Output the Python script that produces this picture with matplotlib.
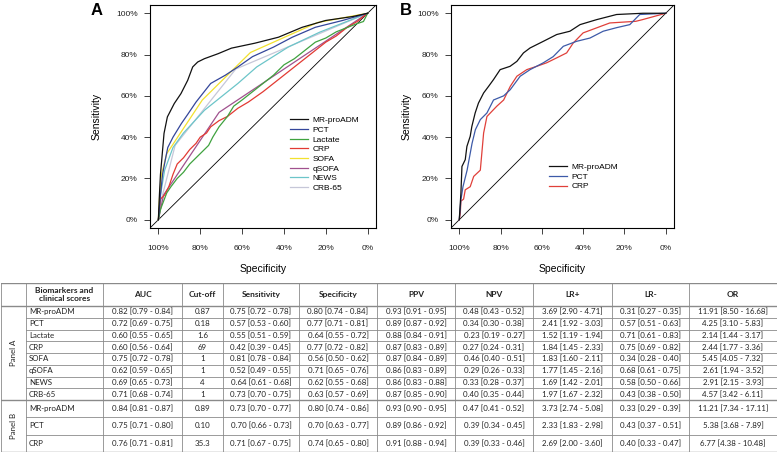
import numpy as np
import matplotlib
matplotlib.use("Agg")
import matplotlib.pyplot as plt

plt.rcParams['font.family'] = ['Liberation Sans', 'DejaVu Sans']

# ---- ROC curves, panel A: (specificity, sensitivity)
mrpro_a_spec = [1.0, 0.995, 0.99, 0.984, 0.973, 0.957, 0.924, 0.892, 0.86, 0.836, 0.812, 0.78, 0.715,
                0.651, 0.539, 0.426, 0.313, 0.201, 0.072, 0.0]
mrpro_a_sens = [0.0, 0.12, 0.22, 0.289, 0.418, 0.498, 0.563, 0.611, 0.675, 0.74, 0.764, 0.78, 0.804,
                0.831, 0.855, 0.884, 0.932, 0.965, 0.984, 1.0]
pct_a_spec = [1.0, 0.99, 0.98, 0.965, 0.955, 0.93, 0.89, 0.86, 0.82, 0.75, 0.68, 0.62, 0.55, 0.45,
              0.36, 0.25, 0.12, 0.0]
pct_a_sens = [0.0, 0.12, 0.22, 0.3, 0.35, 0.4, 0.466, 0.51, 0.57, 0.66, 0.7, 0.74, 0.79, 0.836,
              0.884, 0.932, 0.965, 1.0]
lact_spec = [1.0, 0.99, 0.975, 0.96, 0.94, 0.91, 0.88, 0.85, 0.82, 0.79, 0.76, 0.74, 0.71, 0.67, 0.64,
             0.6, 0.55, 0.5, 0.45, 0.4, 0.35, 0.3, 0.25, 0.2, 0.15, 0.1, 0.05, 0.02, 0.0]
lact_sens = [0.0, 0.05, 0.09, 0.13, 0.16, 0.2, 0.23, 0.27, 0.3, 0.33, 0.36, 0.4, 0.45, 0.5, 0.55,
             0.58, 0.62, 0.66, 0.7, 0.75, 0.78, 0.82, 0.86, 0.88, 0.91, 0.93, 0.95, 0.96, 1.0]
crp_a_spec = [1.0, 0.99, 0.97, 0.95, 0.93, 0.91, 0.88, 0.85, 0.82, 0.8, 0.77, 0.75, 0.71, 0.67, 0.62,
              0.57, 0.5, 0.45, 0.4, 0.35, 0.3, 0.25, 0.2, 0.15, 0.1, 0.05, 0.0]
crp_a_sens = [0.0, 0.1, 0.12, 0.16, 0.22, 0.27, 0.3, 0.34, 0.37, 0.4, 0.42, 0.45, 0.48, 0.5, 0.54,
              0.57, 0.62, 0.66, 0.7, 0.74, 0.78, 0.82, 0.86, 0.89, 0.93, 0.96, 1.0]
sofa_spec = [1.0, 0.995, 0.985, 0.96, 0.79, 0.56, 0.24, 0.0]
sofa_sens = [0.0, 0.1, 0.22, 0.32, 0.58, 0.81, 0.955, 1.0]
qsofa_spec = [1.0, 0.975, 0.71, 0.0]
qsofa_sens = [0.0, 0.12, 0.52, 1.0]
news_spec = [1.0, 0.99, 0.97, 0.93, 0.88, 0.78, 0.62, 0.53, 0.38, 0.23, 0.0]
news_sens = [0.0, 0.12, 0.24, 0.35, 0.42, 0.53, 0.66, 0.74, 0.836, 0.908, 1.0]
crb_spec = [1.0, 0.985, 0.92, 0.63, 0.0]
crb_sens = [0.0, 0.1, 0.36, 0.73, 1.0]

# ---- ROC curves, panel B
mrpro_b_spec = [1.0, 0.992, 0.987, 0.971, 0.963, 0.947, 0.939, 0.923, 0.907, 0.882, 0.858, 0.834, 0.802,
                0.754, 0.721, 0.689, 0.657, 0.593, 0.528, 0.464, 0.415, 0.335, 0.238, 0.11, 0.0]
mrpro_b_sens = [0.0, 0.129, 0.258, 0.291, 0.355, 0.404, 0.452, 0.517, 0.565, 0.614, 0.646, 0.679, 0.727,
                0.743, 0.767, 0.808, 0.832, 0.864, 0.897, 0.913, 0.945, 0.969, 0.994, 1.0, 1.0]
pct_b_spec = [1.0, 0.992, 0.982, 0.962, 0.938, 0.922, 0.898, 0.866, 0.834, 0.785, 0.753, 0.705, 0.657,
              0.593, 0.545, 0.496, 0.432, 0.367, 0.303, 0.239, 0.174, 0.126, 0.0]
pct_b_sens = [0.0, 0.097, 0.16, 0.24, 0.37, 0.436, 0.485, 0.517, 0.58, 0.6, 0.63, 0.695, 0.727,
              0.76, 0.79, 0.84, 0.864, 0.88, 0.913, 0.93, 0.945, 0.994, 1.0]
crp_b_spec = [1.0, 0.995, 0.992, 0.979, 0.971, 0.947, 0.93, 0.898, 0.882, 0.866, 0.818, 0.785, 0.753,
              0.721, 0.673, 0.625, 0.577, 0.528, 0.48, 0.448, 0.4, 0.271, 0.145, 0.113, 0.0]
crp_b_sens = [0.0, 0.03, 0.09, 0.1, 0.145, 0.16, 0.21, 0.24, 0.42, 0.5, 0.55, 0.58, 0.646,
              0.695, 0.727, 0.743, 0.76, 0.784, 0.808, 0.856, 0.905, 0.953, 0.961, 0.969, 1.0]

# ---- table values
row_names = ["MR-proADM", "PCT", "Lactate", "CRP", "SOFA", "qSOFA", "NEWS", "CRB-65",
             "MR-proADM", "PCT", "CRP"]
auc = ["0.82 [0.79 - 0.84]", "0.72 [0.69 - 0.75]", "0.60 [0.55 - 0.65]", "0.60 [0.56 - 0.64]",
       "0.75 [0.72 - 0.78]", "0.62 [0.59 - 0.65]", "0.69 [0.65 - 0.73]", "0.71 [0.68 - 0.74]",
       "0.84 [0.81 - 0.87]", "0.75 [0.71 - 0.80]", "0.76 [0.71 - 0.81]"]
cutoff = ["0.87", "0.18", "1.6", "69", "1", "1", "4", "1", "0.89", "0.10", "35.3"]
sens = ["0.75 [0.72 - 0.78]", "0.57 [0.53 - 0.60]", "0.55 [0.51 - 0.59]", "0.42 [0.39 - 0.45]",
        "0.81 [0.78 - 0.84]", "0.52 [0.49 - 0.55]", "0.64 [0.61 - 0.68]", "0.73 [0.70 - 0.75]",
        "0.73 [0.70 - 0.77]", "0.70 [0.66 - 0.73]", "0.71 [0.67 - 0.75]"]
spec = ["0.80 [0.74 - 0.84]", "0.77 [0.71 - 0.81]", "0.64 [0.55 - 0.72]", "0.77 [0.72 - 0.82]",
        "0.56 [0.50 - 0.62]", "0.71 [0.65 - 0.76]", "0.62 [0.55 - 0.68]", "0.63 [0.57 - 0.69]",
        "0.80 [0.74 - 0.86]", "0.70 [0.63 - 0.77]", "0.74 [0.65 - 0.80]"]
ppv = ["0.93 [0.91 - 0.95]", "0.89 [0.87 - 0.92]", "0.88 [0.84 - 0.91]", "0.87 [0.83 - 0.89]",
       "0.87 [0.84 - 0.89]", "0.86 [0.83 - 0.89]", "0.86 [0.83 - 0.88]", "0.87 [0.85 - 0.90]",
       "0.93 [0.90 - 0.95]", "0.89 [0.86 - 0.92]", "0.91 [0.88 - 0.94]"]
npv = ["0.48 [0.43 - 0.52]", "0.34 [0.30 - 0.38]", "0.23 [0.19 - 0.27]", "0.27 [0.24 - 0.31]",
       "0.46 [0.40 - 0.51]", "0.29 [0.26 - 0.33]", "0.33 [0.28 - 0.37]", "0.40 [0.35 - 0.44]",
       "0.47 [0.41 - 0.52]", "0.39 [0.34 - 0.45]", "0.39 [0.33 - 0.46]"]
lr_pos = ["3.69 [2.90 - 4.71]", "2.41 [1.92 - 3.03]", "1.52 [1.19 - 1.94]", "1.84 [1.45 - 2.33]",
          "1.83 [1.60 - 2.11]", "1.77 [1.45 - 2.16]", "1.69 [1.42 - 2.01]", "1.97 [1.67 - 2.32]",
          "3.73 [2.74 - 5.08]", "2.33 [1.83 - 2.98]", "2.69 [2.00 - 3.60]"]
lr_neg = ["0.31 [0.27 - 0.35]", "0.57 [0.51 - 0.63]", "0.71 [0.61 - 0.83]", "0.75 [0.69 - 0.82]",
          "0.34 [0.28 - 0.40]", "0.68 [0.61 - 0.75]", "0.58 [0.50 - 0.66]", "0.43 [0.38 - 0.50]",
          "0.33 [0.29 - 0.39]", "0.43 [0.37 - 0.51]", "0.40 [0.33 - 0.47]"]
odds = ["11.91 [8.50 - 16.68]", "4.25 [3.10 - 5.83]", "2.14 [1.44 - 3.17]", "2.44 [1.77 - 3.36]",
        "5.45 [4.05 - 7.32]", "2.61 [1.94 - 3.52]", "2.91 [2.15 - 3.93]", "4.57 [3.42 - 6.11]",
        "11.21 [7.34 - 17.11]", "5.38 [3.68 - 7.89]", "6.77 [4.38 - 10.48]"]
headers = ["", "Biomarkers and\nclinical scores", "AUC", "Cut-off", "Sensitivity", "Specificity",
           "PPV", "NPV", "LR+", "LR-", "OR"]
panels = ["Panel A", "Panel B"]
panel_sizes = [8, 3]

W, H = 778, 453
fig = plt.figure(figsize=(W / 100, H / 100), dpi=100)


def px_axes(x0, y0, x1, y1):
    return fig.add_axes([x0 / W, 1 - y1 / H, (x1 - x0) / W, (y1 - y0) / H])


def roc_axes(ax, ylab_x):
    ax.set_xlim(1.04, -0.04)
    ax.set_ylim(-0.04, 1.04)
    ticks = [0, 0.2, 0.4, 0.6, 0.8, 1.0]
    ax.set_xticks(ticks)
    ax.set_xticklabels([f"{int(t * 100)}%" for t in ticks])
    ax.set_yticks(ticks)
    ax.set_yticklabels([f"{int(t * 100)}%" for t in ticks])
    ax.tick_params(axis='both', labelsize=6, length=4, width=0.6, colors='#222222')
    ax.tick_params(axis='x', pad=8)
    ax.tick_params(axis='y', pad=5)
    for s in ax.spines.values():
        s.set_linewidth(0.8)
    ax.axline((1, 0), (0, 1), color='black', lw=0.6)
    ax.set_xlabel("Specificity", fontsize=7.5)
    ax.set_ylabel("Sensitivity", fontsize=7.5)
    ax.xaxis.set_label_coords(0.5, -0.16)
    ax.yaxis.set_label_coords(ylab_x, 0.5)


# panel A
axA = px_axes(150, 5, 376, 228)
roc_axes(axA, -0.215)
curvesA = [
    ("MR-proADM", mrpro_a_spec, mrpro_a_sens, "#111111"),
    ("PCT", pct_a_spec, pct_a_sens, "#34469a"),
    ("Lactate", lact_spec, lact_sens, "#3fa23f"),
    ("CRP", crp_a_spec, crp_a_sens, "#e23a33"),
    ("SOFA", sofa_spec, sofa_sens, "#f2e12e"),
    ("qSOFA", qsofa_spec, qsofa_sens, "#a0518e"),
    ("NEWS", news_spec, news_sens, "#6cc5c9"),
    ("CRB-65", crb_spec, crb_sens, "#c6c7d8"),
]
# draw in reverse so the black curve sits on top
for name, x, y, c in curvesA[::-1]:
    axA.plot(x, y, color=c, lw=0.9, label=name)
h, l = axA.get_legend_handles_labels()
axA.legend(h[::-1], l[::-1], loc='upper left', bbox_to_anchor=(0.62, 0.5), frameon=False,
           fontsize=6, handlelength=2.1, handletextpad=0.6, labelspacing=0.22, borderpad=0,
           borderaxespad=0)

# panel B
axB = px_axes(451, 5, 674, 228)
roc_axes(axB, -0.175)
curvesB = [
    ("MR-proADM", mrpro_b_spec, mrpro_b_sens, "#111111"),
    ("PCT", pct_b_spec, pct_b_sens, "#3d5aa8"),
    ("CRP", crp_b_spec, crp_b_sens, "#e0403a"),
]
for name, x, y, c in curvesB[::-1]:
    axB.plot(x, y, color=c, lw=0.9, label=name)
h, l = axB.get_legend_handles_labels()
axB.legend(h[::-1], l[::-1], loc='upper left', bbox_to_anchor=(0.44, 0.29), frameon=False,
           fontsize=6, handlelength=2.1, handletextpad=0.6, labelspacing=0.22, borderpad=0,
           borderaxespad=0)

fig.text(91 / W, 1 - 3 / H, "A", fontsize=12, fontweight='bold', va='top', ha='left')
fig.text(400 / W, 1 - 3 / H, "B", fontsize=12, fontweight='bold', va='top', ha='left')

# ---- table
tfont = ['Lato', 'DejaVu Sans']
col_edges = [0, 25, 102, 181, 222, 298, 376, 454, 532, 611, 688, 776]
row_h = [23] + [11.75] * 8 + [17.33] * 3
row_edges = np.concatenate([[0], np.cumsum(row_h)])
T_H = row_edges[-1]
axT = px_axes(1, 283, 1 + col_edges[-1], 283 + T_H)
axT.set_xlim(0, col_edges[-1])
axT.set_ylim(T_H, 0)
axT.axis('off')
lc = '#8a8a8a'

columns = [row_names, auc, cutoff, sens, spec, ppv, npv, lr_pos, lr_neg, odds]
# header
for j, txt in enumerate(headers):
    if not txt:
        continue
    xc = (col_edges[j] + col_edges[j + 1]) / 2
    axT.text(xc, row_edges[1] / 2, txt, ha='center', va='center', fontsize=6,
             fontweight='bold', family=tfont, linespacing=1.1, color='#222222')
# body
for i in range(len(row_names)):
    yc = (row_edges[i + 1] + row_edges[i + 2]) / 2
    for j, col in enumerate(columns):
        k = j + 1
        if k == 1:
            axT.text(col_edges[k] + 3, yc, col[i], ha='left', va='center', fontsize=5.7,
                     family=tfont, color='#222222')
        else:
            xc = (col_edges[k] + col_edges[k + 1]) / 2
            axT.text(xc, yc, col[i], ha='center', va='center', fontsize=5.7,
                     family=tfont, color='#222222')

# panel labels
start = 1
for name, n in zip(panels, panel_sizes):
    yc = (row_edges[start] + row_edges[start + n]) / 2
    axT.text(col_edges[1] / 2, yc, name, rotation=90, ha='center', va='center',
             fontsize=5.7, family=tfont, color='#222222')
    start += n

# grid lines
for x in col_edges:
    axT.plot([x, x], [0, T_H], color=lc, lw=0.6)
for i, y in enumerate(row_edges):
    x0 = 0 if i in (0, 1, 9, len(row_edges) - 1) else col_edges[1]
    lw = 1.0 if i in (0, 1, 9, len(row_edges) - 1) else 0.6
    axT.plot([x0, col_edges[-1]], [y, y], color=lc, lw=lw)

fig.savefig("out.png", dpi=100)
